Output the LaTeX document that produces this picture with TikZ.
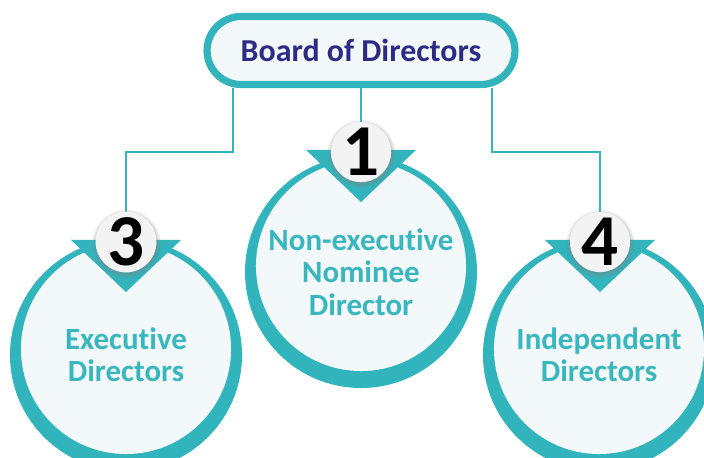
\documentclass[tikz,border=0pt]{standalone}
\usepackage{fontspec}
\setmainfont[Ligatures=NoCommon]{Carlito}
\usetikzlibrary{shapes.misc, shadows, calc, backgrounds}
\definecolor{ringteal}{HTML}{31B4BC}
\definecolor{labelteal}{HTML}{3AB6BF}
\definecolor{paleteal}{HTML}{F3F9FA}
\definecolor{boardblue}{HTML}{2E2B84}
\definecolor{badgegray}{HTML}{F3F3F3}

\begin{document}
\begin{tikzpicture}[
    x=0.025cm, y=-0.025cm,
    ring/.style={circle, fill=ringteal, minimum size=5.8cm, inner sep=0pt, text=labelteal, align=center, font=\bfseries\fontsize{22}{23}\selectfont,
        path picture={\fill[paleteal] ($(path picture bounding box.center)+(0,0.15cm)$) circle (2.625cm);}},
    board/.style={rounded rectangle, draw=ringteal, line width=0.18cm, fill=paleteal, minimum width=7.93cm, minimum height=1.7cm, text=boardblue, font=\bfseries\fontsize{22.7}{24}\selectfont},
    badge/.style={circle, fill=badgegray, minimum size=1.35cm, inner sep=0pt, font=\bfseries\fontsize{52}{52}\selectfont, circular drop shadow={shadow xshift=0pt, shadow yshift=-1pt, shadow scale=1.15, opacity=0.45}},
    link/.style={draw=ringteal, line width=1.8pt},
    pointer/.style={fill=ringteal}
]
\useasboundingbox (0,0) rectangle (704,458);
\clip (0,0) rectangle (704,458);
% ---------------- member circles ----------------
\node[ring] (exec) at (126,355) {Executive\\Directors};
\node[ring] (nominee) at (361,272) {Non-executive\\Nominee\\Director};
\node[ring] (indep) at (599,355) {Independent\\Directors};
\node[board] (top) at (361,50.5) {Board of Directors};
% ---------------- connectors ----------------
\coordinate (b3) at (126,242);
\coordinate (b1) at (361,152);
\coordinate (b4) at (600,242);
\begin{scope}[on background layer]
    \fill[white] (0,0) rectangle (704,458);
    \draw[link] ($(top.south)+(-128,0)$) -- ++(0,64) -| (b3);
    \draw[link] (top.south) -- (b1);
    \draw[link] ($(top.south)+(131,0)$) -- ++(0,64) -| (b4);
\end{scope}
% ---------------- pointers ----------------
\foreach \b in {b3,b1,b4}
    \fill[pointer] ($(\b)+(-55,-2)$) -- ($(\b)+(55,-2)$) -- ($(\b)+(0,50)$) -- cycle;
% ---------------- badges ----------------
\node[badge] (n3) at (b3) {3};
\node[badge] (n1) at (b1) {1};
\node[badge] (n4) at (b4) {4};
\end{tikzpicture}
\end{document}
